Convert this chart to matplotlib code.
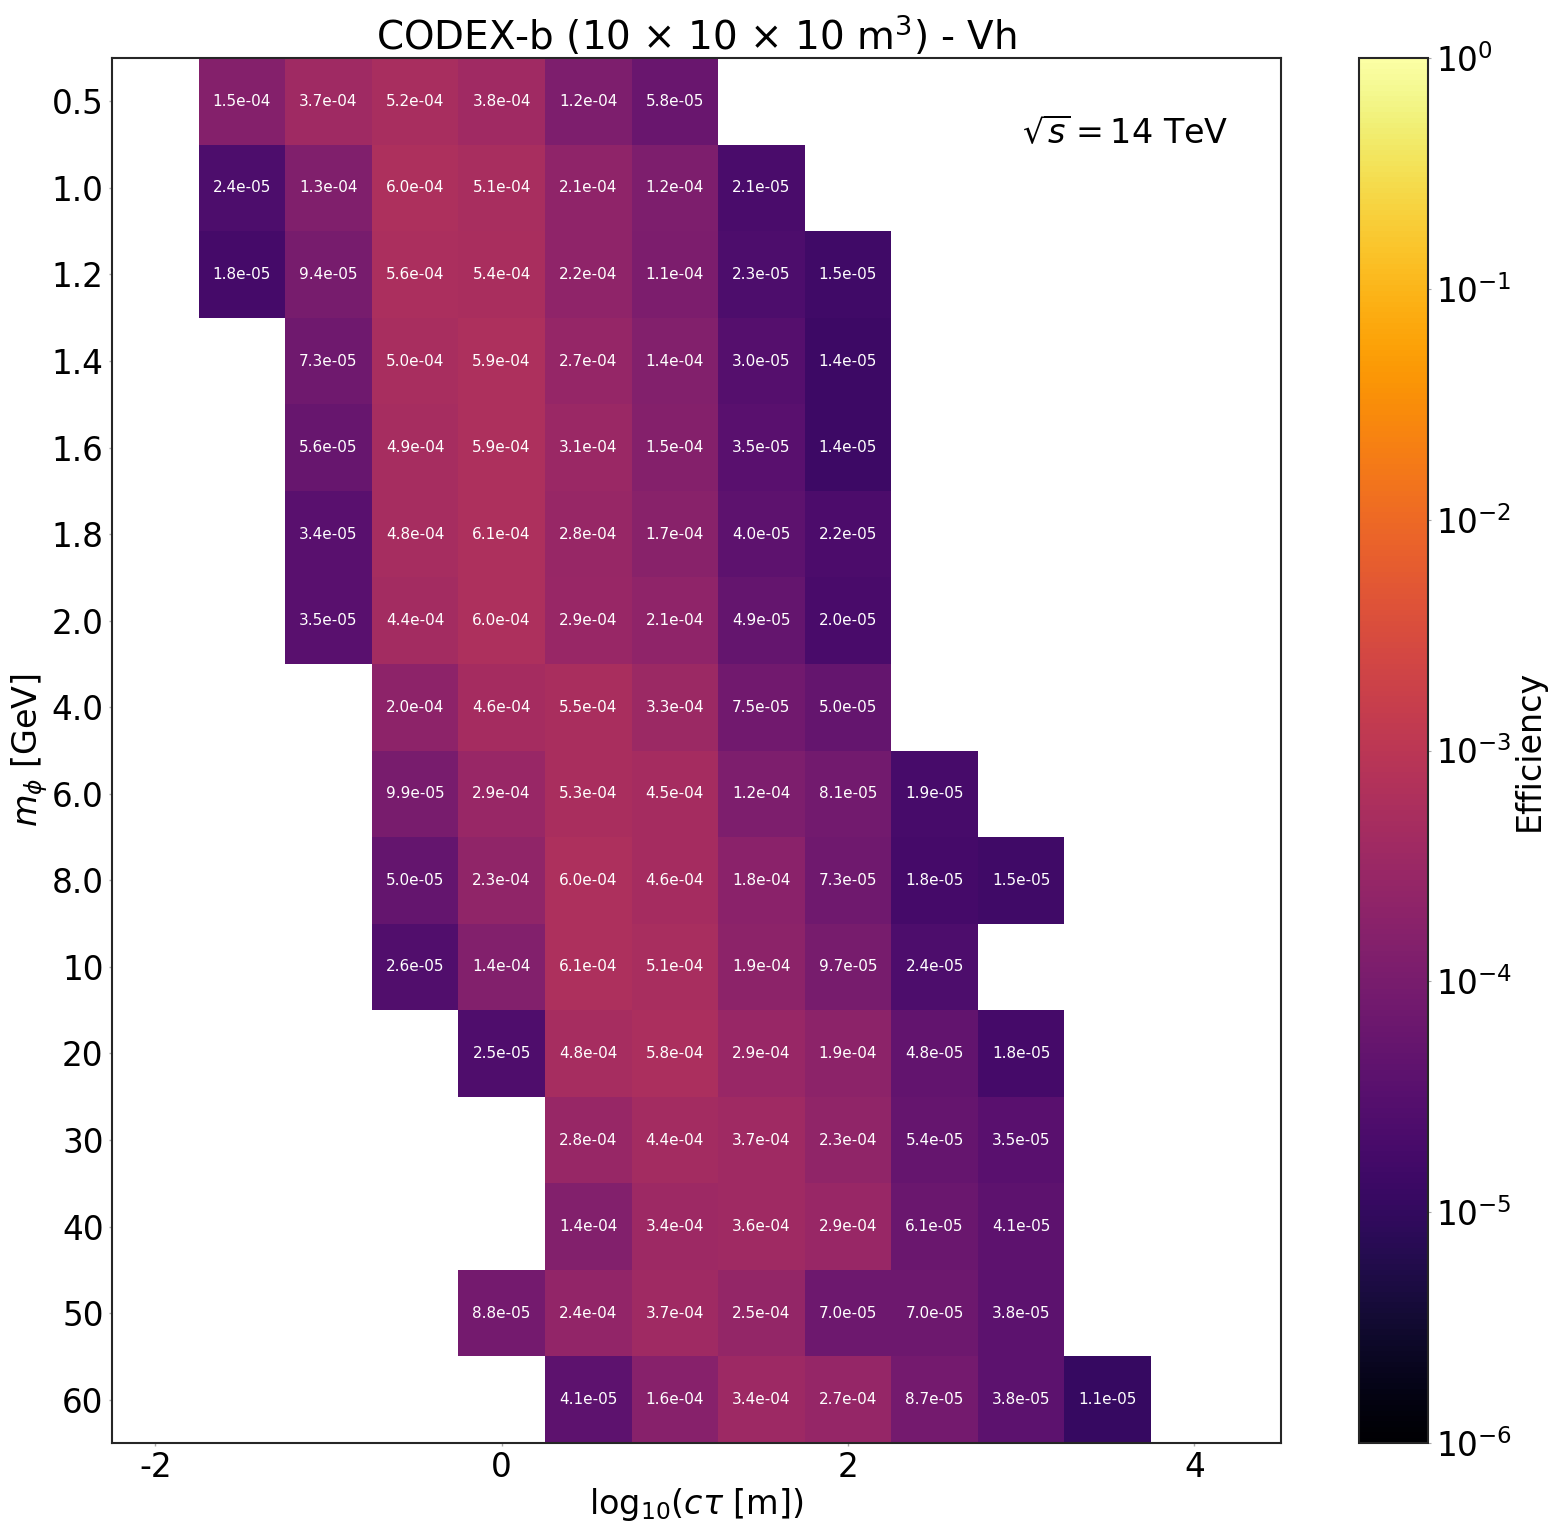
import numpy as np
import matplotlib
matplotlib.use("Agg")
import matplotlib.pyplot as plt
from matplotlib.colors import LogNorm
from matplotlib.ticker import NullFormatter

nan = np.nan

# log10(c tau [m]) bin centres and scalar masses
log_ctau = [-1.5, -1.0, -0.5, 0.0, 0.5, 1.0, 1.5, 2.0, 2.5, 3.0, 3.5]
masses = ['0.5', '1.0', '1.2', '1.4', '1.6', '1.8', '2.0', '4.0', '6.0',
          '8.0', '10', '20', '30', '40', '50', '60']

# efficiency, one row per mass (top to bottom), one column per log10(c tau)
eff = [
    [1.5e-4, 3.7e-4, 5.2e-4, 3.8e-4, 1.2e-4, 5.8e-5, nan, nan, nan, nan, nan],
    [2.4e-5, 1.3e-4, 6.0e-4, 5.1e-4, 2.1e-4, 1.2e-4, 2.1e-5, nan, nan, nan, nan],
    [1.8e-5, 9.4e-5, 5.6e-4, 5.4e-4, 2.2e-4, 1.1e-4, 2.3e-5, 1.5e-5, nan, nan, nan],
    [nan, 7.3e-5, 5.0e-4, 5.9e-4, 2.7e-4, 1.4e-4, 3.0e-5, 1.4e-5, nan, nan, nan],
    [nan, 5.6e-5, 4.9e-4, 5.9e-4, 3.1e-4, 1.5e-4, 3.5e-5, 1.4e-5, nan, nan, nan],
    [nan, 3.4e-5, 4.8e-4, 6.1e-4, 2.8e-4, 1.7e-4, 4.0e-5, 2.2e-5, nan, nan, nan],
    [nan, 3.5e-5, 4.4e-4, 6.0e-4, 2.9e-4, 2.1e-4, 4.9e-5, 2.0e-5, nan, nan, nan],
    [nan, nan, 2.0e-4, 4.6e-4, 5.5e-4, 3.3e-4, 7.5e-5, 5.0e-5, nan, nan, nan],
    [nan, nan, 9.9e-5, 2.9e-4, 5.3e-4, 4.5e-4, 1.2e-4, 8.1e-5, 1.9e-5, nan, nan],
    [nan, nan, 5.0e-5, 2.3e-4, 6.0e-4, 4.6e-4, 1.8e-4, 7.3e-5, 1.8e-5, 1.5e-5, nan],
    [nan, nan, 2.6e-5, 1.4e-4, 6.1e-4, 5.1e-4, 1.9e-4, 9.7e-5, 2.4e-5, nan, nan],
    [nan, nan, nan, 2.5e-5, 4.8e-4, 5.8e-4, 2.9e-4, 1.9e-4, 4.8e-5, 1.8e-5, nan],
    [nan, nan, nan, nan, 2.8e-4, 4.4e-4, 3.7e-4, 2.3e-4, 5.4e-5, 3.5e-5, nan],
    [nan, nan, nan, nan, 1.4e-4, 3.4e-4, 3.6e-4, 2.9e-4, 6.1e-5, 4.1e-5, nan],
    [nan, nan, nan, 8.8e-5, 2.4e-4, 3.7e-4, 2.5e-4, 7.0e-5, 7.0e-5, 3.8e-5, nan],
    [nan, nan, nan, nan, 4.1e-5, 1.6e-4, 3.4e-4, 2.7e-4, 8.7e-5, 3.8e-5, 1.1e-5],
]

Z = np.ma.masked_invalid(np.array(eff))
xc = np.array(log_ctau)
xedges = np.concatenate([xc - 0.25, [xc[-1] + 0.25]])
yedges = np.arange(len(masses) + 1)

plt.rcParams['axes.edgecolor'] = '#262626'
plt.rcParams['axes.linewidth'] = 1.5

fig = plt.figure(figsize=(15.57, 15.32), dpi=100)
ax = fig.add_axes([0.0719, 0.0581, 0.7508, 0.904])
cax = fig.add_axes([0.8728, 0.0581, 0.0443, 0.904])

norm = LogNorm(vmin=1e-6, vmax=1)
mesh = ax.pcolormesh(xedges, yedges, Z, cmap='inferno', norm=norm)

for i in range(len(masses)):
    for j in range(len(log_ctau)):
        v = eff[i][j]
        if not np.isnan(v):
            ax.text(xc[j], i + 0.5, '%.1e' % v, ha='center', va='center',
                    color='white', fontsize=11)

ax.set_xlim(-2.25, 4.5)
ax.set_ylim(len(masses), 0)
ax.set_yticks(np.arange(len(masses)) + 0.5)
ax.set_yticklabels(masses)
ax.set_xticks([-2, 0, 2, 4])
ax.set_xticklabels(['-2', '0', '2', '4'])
ax.tick_params(labelsize=23.5, length=2, width=1, color='#aaaaaa', pad=4)

ax.set_xlabel(r'log$_{10}$($c\tau$ [m])', fontsize=24, labelpad=1)
ax.set_ylabel(r'$m_\phi$ [GeV]', fontsize=24, labelpad=1)
ax.set_title(r'CODEX-b (10 $\times$ 10 $\times$ 10 m$^3$) - Vh', fontsize=28)
ax.text(0.955, 0.946, r'$\sqrt{s} = 14$ TeV', transform=ax.transAxes,
        ha='right', va='center', fontsize=24)

cb = fig.colorbar(mesh, cax=cax)
cb.set_label('Efficiency', fontsize=24, labelpad=1)
cb.ax.tick_params(labelsize=23.5, length=2, which='major', color='#aaaaaa')
cb.ax.tick_params(which='minor', length=0)
cb.ax.yaxis.set_minor_formatter(NullFormatter())
cb.outline.set_edgecolor('#262626')
cb.outline.set_linewidth(1.5)

fig.savefig('out.png', dpi=100)
